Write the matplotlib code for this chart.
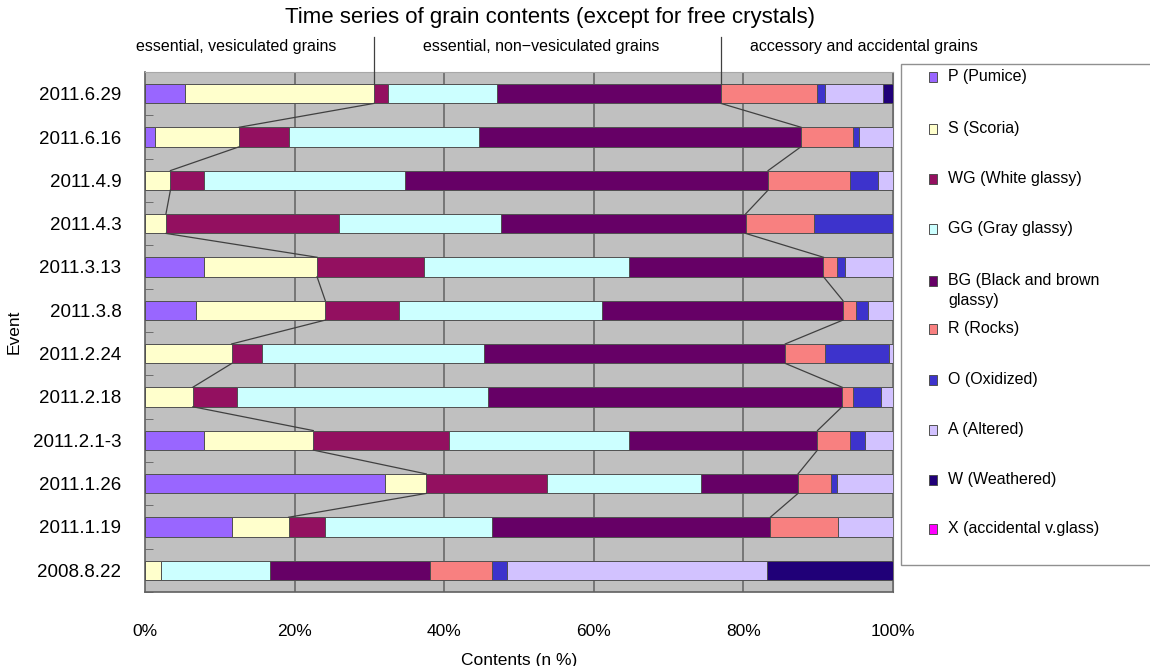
import matplotlib
matplotlib.use("Agg")
import matplotlib.pyplot as plt
from matplotlib.patches import Rectangle
import numpy as np

plt.rcParams['font.family'] = ['Liberation Sans', 'DejaVu Sans']

events = ["2011.6.29", "2011.6.16", "2011.4.9", "2011.4.3", "2011.3.13",
          "2011.3.8", "2011.2.24", "2011.2.18", "2011.2.1-3", "2011.1.26",
          "2011.1.19", "2008.8.22"]

# grain contents (n %) per event, top to bottom
P  = [5.4, 1.3, 0.0, 0.0, 7.9, 6.8, 0.0, 0.0, 7.9, 32.1, 11.6, 0.0]
S  = [25.2, 11.3, 3.4, 2.8, 15.1, 17.3, 11.6, 6.4, 14.6, 5.5, 7.6, 2.1]
WG = [1.9, 6.7, 4.5, 23.1, 14.3, 9.9, 4.0, 5.9, 18.2, 16.2, 4.9, 0.0]
GG = [14.6, 25.3, 26.8, 21.7, 27.4, 27.1, 29.7, 33.5, 24.0, 20.5, 22.3, 14.6]
BG = [29.9, 43.1, 48.6, 32.7, 26.0, 32.2, 40.3, 47.4, 25.2, 13.0, 37.2, 21.4]
R  = [12.8, 6.9, 11.0, 9.1, 1.8, 1.7, 5.3, 1.4, 4.4, 4.4, 9.0, 8.3]
O  = [1.1, 0.8, 3.7, 10.6, 1.1, 1.6, 8.6, 3.8, 1.9, 0.8, 0.0, 2.0]
A  = [7.7, 4.6, 2.0, 0.0, 6.4, 3.4, 0.5, 1.6, 3.8, 7.5, 7.4, 34.8]
W  = [1.4, 0.0, 0.0, 0.0, 0.0, 0.0, 0.0, 0.0, 0.0, 0.0, 0.0, 16.8]
X  = [0.0] * 12

series_labels = ["P (Pumice)", "S (Scoria)", "WG (White glassy)", "GG (Gray glassy)",
                 "BG (Black and brown\nglassy)", "R (Rocks)", "O (Oxidized)",
                 "A (Altered)", "W (Weathered)", "X (accidental v.glass)"]
series_values = [P, S, WG, GG, BG, R, O, A, W, X]
series_colors = ["#9966FF", "#FFFFCC", "#931060", "#CCFFFF", "#660066",
                 "#F88080", "#3D33CC", "#D2C2FF", "#200078", "#FF00FF"]

group_headers = ["essential, vesiculated grains",
                 "essential, non\u2212vesiculated grains",
                 "accessory and accidental grains"]

fig = plt.figure(figsize=(11.5, 6.66), dpi=100)
ax = fig.add_axes([145 / 1150, 1 - 592 / 666, 748 / 1150, 520 / 666])
ax.set_facecolor("#C0C0C0")

ypos = np.arange(len(events))
bar_h = 0.45
left = np.zeros(len(events))
for vals, lab, col in zip(series_values, series_labels, series_colors):
    v = np.array(vals)
    ax.barh(ypos, v, left=left, height=bar_h, color=col, edgecolor="#505050",
            linewidth=0.7, label=lab, zorder=3)
    left = left + v

ax.set_xlim(0, 100)
ax.set_ylim(len(events) - 0.5, -0.5)

# series lines at the two group boundaries (end of S and end of BG),
# linking the 2011 events only
cum_S = np.array(P) + np.array(S)
cum_BG = cum_S + np.array(WG) + np.array(GG) + np.array(BG)
n_linked = len(events) - 1
for cum in (cum_S, cum_BG):
    for i in range(n_linked - 1):
        ax.plot([cum[i], cum[i + 1]], [ypos[i] + bar_h / 2, ypos[i + 1] - bar_h / 2],
                color="#404040", lw=0.9, zorder=4)
    # separator extending up to the group header row
    ax.plot([cum[0], cum[0]], [ypos[0] - bar_h / 2, -1.31], color="#404040",
            lw=0.9, zorder=4, clip_on=False)

# vertical gridlines
ax.set_xticks([0, 20, 40, 60, 80, 100])
ax.set_xticklabels(["0%", "20%", "40%", "60%", "80%", "100%"], fontsize=12.5)
for gx in [20, 40, 60, 80, 100]:
    ax.axvline(gx, color="#707070", lw=1.3, zorder=1)
ax.tick_params(axis="x", length=0, pad=23)

ax.set_yticks(ypos)
ax.set_yticklabels(events, fontsize=13.5)
ax.tick_params(axis="y", length=0, pad=17)
ax.set_yticks(np.arange(-0.5, len(events)), minor=True)
ax.tick_params(axis="y", which="minor", direction="in", length=6, color="#606060")

for side in ("left", "bottom"):
    ax.spines[side].set_color("#606060")
    ax.spines[side].set_linewidth(1.2)
ax.spines["top"].set_color("#A8A8A8")
ax.spines["right"].set_color("#707070")

ax.set_xlabel("Contents (n %)", fontsize=12.5, labelpad=10)
ax.set_ylabel("Event", fontsize=12.5)
ax.yaxis.set_label_coords(-0.165, 0.5)

fig.text(550 / 1150, 1 - 17 / 666, "Time series of grain contents (except for free crystals)",
         ha="center", va="center", fontsize=16)
for hx, txt in zip([236, 541, 864], group_headers):
    fig.text(hx / 1150, 1 - 47 / 666, txt, ha="center", va="center", fontsize=11.5)

# legend panel on the right
fig.patches.append(Rectangle((901 / 1150, 1 - 565 / 666), 260 / 1150, 501 / 666,
                             transform=fig.transFigure, facecolor="white",
                             edgecolor="#909090", lw=1.0))
leg_y = [77, 129, 179, 229, 281, 329, 380, 430, 480, 529]
for yy, lab, col in zip(leg_y, series_labels, series_colors):
    fig.patches.append(Rectangle((929 / 1150, 1 - (yy + 5) / 666), 8 / 1150, 10 / 666,
                                 transform=fig.transFigure, facecolor=col,
                                 edgecolor="#505050", lw=0.7))
    fig.text(948 / 1150, 1 - (yy - 8) / 666, lab, ha="left", va="top",
             fontsize=11.5, linespacing=1.45)

fig.savefig("out.png", dpi=100)
